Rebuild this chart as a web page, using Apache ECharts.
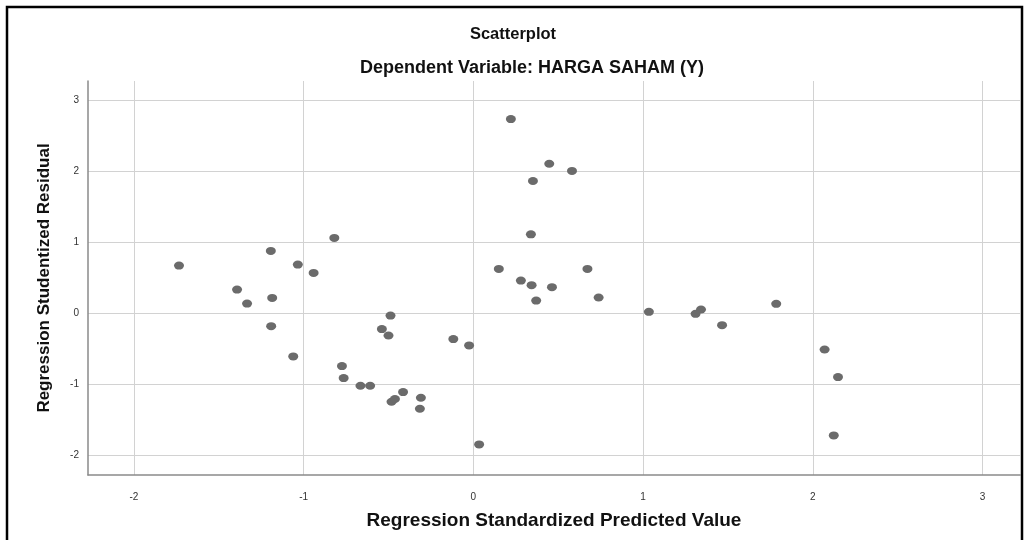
<!DOCTYPE html>
<html>
<head>
<meta charset="utf-8">
<script src="https://cdn.jsdelivr.net/npm/echarts@6/dist/echarts.min.js"></script>
<style>
html,body{margin:0;padding:0;background:#fff;}
#c{width:1027px;height:540px;}
</style>
</head>
<body>
<div id="c"></div>
<script>
const titleText = "Scatterplot";
const subtitleText = "Dependent Variable: HARGA SAHAM (Y)";
const xAxisName = "Regression Standardized Predicted Value";
const yAxisName = "Regression Studentized Residual";

const predicted = [
  -1.734, -1.193, -1.034, -0.941, -0.819, -1.392, -1.333, -1.185, -1.191, -1.061,
  -0.774, -0.764, -0.665, -0.608, -0.488, -0.539, -0.500, -0.414, -0.482, -0.462,
  -0.309, -0.315, -0.118, -0.025, 0.034, 0.221, 0.447, 0.581, 0.351, 0.339,
  0.150, 0.672, 0.280, 0.343, 0.463, 0.370, 0.738, 1.034, 1.309, 1.341,
  1.465, 1.784, 2.069, 2.148, 2.123
];
const residual = [
  0.670, 0.877, 0.684, 0.567, 1.060, 0.332, 0.135, 0.215, -0.183, -0.610,
  -0.746, -0.915, -1.023, -1.023, -0.034, -0.225, -0.315, -1.112, -1.248, -1.210,
  -1.192, -1.347, -0.366, -0.455, -1.849, 2.734, 2.105, 2.003, 1.862, 1.110,
  0.623, 0.623, 0.459, 0.394, 0.366, 0.177, 0.220, 0.018, -0.010, 0.051,
  -0.169, 0.131, -0.512, -0.901, -1.722
];

const points = predicted.map((x, i) => [x, residual[i]]);
const isInt = v => Math.abs(v - Math.round(v)) < 1e-6;
const font = "Arial, 'Liberation Sans', sans-serif";

const chart = echarts.init(document.getElementById('c'));
chart.setOption({
  backgroundColor: '#fff',
  animation: false,
  grid: { left: 88, top: 81, right: 7, bottom: 65, containLabel: false },
  xAxis: {
    type: 'value',
    min: -2.27, max: 3.22,
    name: xAxisName,
    nameLocation: 'middle',
    nameGap: 36,
    nameTextStyle: { fontFamily: font, fontSize: 19, fontWeight: 'bold', color: '#111' },
    axisLine: { show: true, onZero: false, lineStyle: { color: '#8a8a8a', width: 1.5 } },
    axisTick: { show: false },
    axisLabel: {
      fontFamily: font, fontSize: 10, color: '#333', margin: 17,
      showMinLabel: false, showMaxLabel: false,
      formatter: v => isInt(v) ? String(Math.round(v)) : ''
    },
    splitLine: { show: true, showMinLine: false, showMaxLine: false, lineStyle: { color: '#d2d2d2', width: 1 } }
  },
  yAxis: {
    type: 'value',
    min: -2.28, max: 3.27,
    name: yAxisName,
    nameLocation: 'middle',
    nameGap: 35,
    nameRotate: 90,
    nameTextStyle: { fontFamily: font, fontSize: 17, fontWeight: 'bold', color: '#111' },
    axisLine: { show: true, onZero: false, lineStyle: { color: '#8a8a8a', width: 1.5 } },
    axisTick: { show: false },
    axisLabel: {
      fontFamily: font, fontSize: 10, color: '#333', margin: 9,
      showMinLabel: false, showMaxLabel: false,
      formatter: v => isInt(v) ? String(Math.round(v)) : ''
    },
    splitLine: { show: true, showMinLine: false, showMaxLine: false, lineStyle: { color: '#d2d2d2', width: 1 } }
  },
  series: [{
    type: 'scatter',
    data: points,
    symbol: 'circle',
    symbolSize: [10, 8],
    itemStyle: { color: '#6b6b6b', opacity: 1 },
    z: 5
  }],
  graphic: [
    { type: 'rect', shape: { x: 7, y: 7, width: 1015, height: 600 },
      style: { fill: 'none', stroke: '#000', lineWidth: 2.5 }, z: 100, silent: true },
    { type: 'text', x: 513, y: 34, style: { text: titleText, textAlign: 'center', textVerticalAlign: 'middle',
      font: "bold 16.5px " + font, fill: '#111' } },
    { type: 'text', x: 532, y: 68, style: { text: subtitleText, textAlign: 'center', textVerticalAlign: 'middle',
      font: "bold 18px " + font, fill: '#111' } }
  ]
});
</script>
</body>
</html>
